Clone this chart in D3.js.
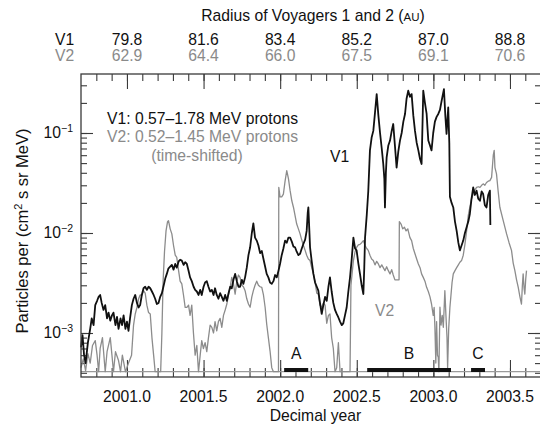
<!DOCTYPE html>
<html>
  <head>
    <meta charset="utf-8">
    <title>Voyager protons</title>
    <script src="https://cdn.jsdelivr.net/npm/d3@7"></script>
    <style>
      body { margin: 0; background: #fff; }
      svg { display: block; }
      text { font-family: 'Liberation Sans', Arial, sans-serif; font-size: 15.7px; }
      .axis path { stroke: none; }
      .axis line { stroke: #3a3a3a; stroke-width: 1.1; }
      .frame { fill: none; stroke: #3a3a3a; stroke-width: 1.3; }
      .v1 { fill: none; stroke: #111; stroke-width: 1.8; stroke-linejoin: round; }
      .v2 { fill: none; stroke: #8c8c8c; stroke-width: 1.3; stroke-linejoin: round; }
      .dark { fill: #111; }
      .grey { fill: #8a8a8a; }
    </style>
  </head>
  <body>
    <script>

      // V1 0.57-1.78 MeV protons, [decimal year, particles per (cm2 s sr MeV)]
      var v1Data = [
        [2000.700, 7.2e-4], [2000.710, 9.5e-4], [2000.720, 6.0e-4], [2000.730, 5.0e-4],
        [2000.745, 8.0e-4], [2000.760, 1.1e-3], [2000.770, 1.4e-3], [2000.782, 1.2e-3],
        [2000.793, 1.9e-3], [2000.805, 2.1e-3], [2000.815, 2.3e-3], [2000.825, 2.4e-3],
        [2000.835, 2.0e-3], [2000.847, 1.7e-3], [2000.858, 1.9e-3], [2000.870, 1.4e-3],
        [2000.880, 1.6e-3], [2000.891, 1.33e-3], [2000.902, 1.5e-3], [2000.912, 1.6e-3],
        [2000.925, 1.2e-3], [2000.935, 1.45e-3], [2000.945, 1.1e-3], [2000.958, 1.4e-3],
        [2000.968, 1.2e-3], [2000.978, 1.5e-3], [2000.990, 1.1e-3], [2001.000, 1.3e-3],
        [2001.010, 1.05e-3], [2001.020, 1.4e-3], [2001.032, 1.9e-3], [2001.043, 2.2e-3],
        [2001.054, 2.4e-3], [2001.065, 2.0e-3], [2001.076, 1.8e-3], [2001.086, 1.9e-3],
        [2001.097, 2.4e-3], [2001.108, 2.8e-3], [2001.119, 2.9e-3], [2001.130, 2.7e-3],
        [2001.141, 2.9e-3], [2001.152, 2.8e-3], [2001.163, 2.6e-3], [2001.174, 2.4e-3],
        [2001.184, 2.2e-3], [2001.195, 1.95e-3], [2001.206, 2.0e-3], [2001.217, 2.3e-3],
        [2001.228, 2.5e-3], [2001.240, 3.0e-3], [2001.250, 3.5e-3], [2001.260, 3.9e-3],
        [2001.270, 4.4e-3], [2001.282, 4.6e-3], [2001.293, 4.8e-3], [2001.304, 4.3e-3],
        [2001.315, 4.9e-3], [2001.325, 4.5e-3], [2001.337, 5.2e-3], [2001.347, 5.4e-3],
        [2001.358, 5.3e-3], [2001.370, 4.8e-3], [2001.380, 5.1e-3], [2001.391, 4.9e-3],
        [2001.402, 4.2e-3], [2001.412, 3.6e-3], [2001.423, 3.3e-3], [2001.435, 2.9e-3],
        [2001.445, 2.7e-3], [2001.456, 2.6e-3], [2001.467, 2.4e-3], [2001.478, 2.7e-3],
        [2001.488, 2.4e-3], [2001.500, 2.9e-3], [2001.510, 3.2e-3], [2001.521, 3.3e-3],
        [2001.532, 2.9e-3], [2001.543, 2.6e-3], [2001.554, 2.7e-3], [2001.565, 2.4e-3],
        [2001.575, 2.8e-3], [2001.586, 2.4e-3], [2001.597, 2.2e-3], [2001.608, 2.5e-3],
        [2001.619, 2.3e-3], [2001.630, 2.1e-3], [2001.641, 2.4e-3], [2001.652, 2.1e-3],
        [2001.663, 2.5e-3], [2001.674, 2.9e-3], [2001.684, 2.8e-3], [2001.695, 3.4e-3],
        [2001.706, 3.9e-3], [2001.717, 3.3e-3], [2001.728, 2.9e-3], [2001.738, 2.9e-3],
        [2001.750, 3.4e-3], [2001.760, 3.1e-3], [2001.771, 3.6e-3], [2001.782, 4.5e-3],
        [2001.793, 6.0e-3], [2001.804, 7.2e-3], [2001.815, 1.0e-2], [2001.825, 1.25e-2],
        [2001.836, 9.0e-3], [2001.847, 8.4e-3], [2001.858, 7.5e-3], [2001.869, 6.3e-3],
        [2001.880, 6.6e-3], [2001.891, 5.5e-3], [2001.902, 4.6e-3], [2001.912, 3.9e-3],
        [2001.923, 3.6e-3], [2001.934, 3.2e-3], [2001.945, 3.1e-3], [2001.956, 3.3e-3],
        [2001.967, 3.8e-3], [2001.978, 3.6e-3], [2001.989, 4.2e-3], [2001.999, 4.9e-3],
        [2002.010, 6.0e-3], [2002.021, 7.0e-3], [2002.032, 8.4e-3], [2002.043, 8.0e-3],
        [2002.054, 9.0e-3], [2002.065, 9.0e-3], [2002.076, 8.2e-3], [2002.087, 7.3e-3],
        [2002.097, 7.2e-3], [2002.108, 6.5e-3], [2002.119, 6.0e-3], [2002.130, 6.2e-3],
        [2002.141, 7.0e-3], [2002.152, 7.8e-3], [2002.163, 8.6e-3], [2002.173, 1.05e-2],
        [2002.180, 1.6e-2], [2002.184, 1.8e-2], [2002.190, 1.1e-2], [2002.195, 7.2e-3],
        [2002.206, 5.2e-3], [2002.217, 3.9e-3], [2002.228, 3.2e-3], [2002.239, 2.9e-3],
        [2002.249, 2.65e-3], [2002.260, 2.0e-3], [2002.271, 1.55e-3], [2002.282, 1.9e-3],
        [2002.293, 2.3e-3], [2002.304, 2.1e-3], [2002.315, 2.9e-3], [2002.325, 3.6e-3],
        [2002.336, 2.6e-3], [2002.347, 2.0e-3], [2002.358, 1.7e-3], [2002.369, 1.55e-3],
        [2002.380, 1.43e-3], [2002.391, 1.3e-3], [2002.402, 1.2e-3], [2002.412, 1.25e-3],
        [2002.423, 1.5e-3], [2002.434, 1.8e-3], [2002.445, 2.6e-3], [2002.456, 3.6e-3],
        [2002.467, 5.5e-3], [2002.478, 9.0e-3], [2002.489, 7.0e-3], [2002.499, 6.7e-3],
        [2002.510, 5.0e-3], [2002.521, 3.9e-3], [2002.532, 3.0e-3], [2002.543, 2.45e-3],
        [2002.549, 4.5e-3], [2002.554, 9.0e-3], [2002.565, 1.5e-2], [2002.575, 2.6e-2],
        [2002.586, 6.7e-2], [2002.597, 9.0e-2], [2002.608, 1.05e-1], [2002.619, 1.6e-1],
        [2002.630, 2.45e-1], [2002.641, 1.5e-1], [2002.652, 1.0e-1], [2002.663, 7.0e-2],
        [2002.673, 4.9e-2], [2002.680, 3.5e-2], [2002.684, 1.8e-2], [2002.690, 4.0e-2],
        [2002.695, 5.7e-2], [2002.706, 7.5e-2], [2002.717, 8.4e-2], [2002.728, 1.05e-1],
        [2002.738, 1.23e-1], [2002.749, 7.5e-2], [2002.760, 4.5e-2], [2002.771, 6.5e-2],
        [2002.782, 8.4e-2], [2002.793, 1.0e-1], [2002.804, 1.3e-1], [2002.815, 1.55e-1],
        [2002.825, 2.2e-1], [2002.836, 2.65e-1], [2002.847, 2.3e-1], [2002.858, 2.45e-1],
        [2002.869, 1.5e-1], [2002.880, 1.05e-1], [2002.891, 8.0e-2], [2002.902, 6.7e-2],
        [2002.913, 5.5e-2], [2002.923, 4.9e-2], [2002.929, 1.2e-1], [2002.934, 2.65e-1],
        [2002.945, 2.0e-1], [2002.956, 1.55e-1], [2002.962, 1.1e-1], [2002.967, 8.4e-2],
        [2002.978, 7.5e-2], [2002.988, 6.7e-2], [2002.999, 1.0e-1], [2003.010, 1.3e-1],
        [2003.021, 1.45e-1], [2003.032, 1.55e-1], [2003.043, 1.7e-1], [2003.054, 2.1e-1],
        [2003.069, 2.75e-1], [2003.078, 1.5e-1], [2003.086, 9.8e-2], [2003.097, 1.8e-1],
        [2003.104, 8.0e-2], [2003.108, 2.3e-2], [2003.119, 2.0e-2], [2003.130, 1.8e-2],
        [2003.141, 1.3e-2], [2003.152, 1.05e-2], [2003.163, 8.0e-3], [2003.173, 6.7e-3],
        [2003.184, 7.5e-3], [2003.195, 8.4e-3], [2003.206, 1.0e-2], [2003.217, 1.14e-2],
        [2003.228, 1.3e-2], [2003.238, 1.55e-2], [2003.249, 2.2e-2], [2003.260, 2.86e-2],
        [2003.271, 2.4e-2], [2003.282, 2.65e-2], [2003.293, 2.2e-2], [2003.304, 2.1e-2],
        [2003.315, 2.6e-2], [2003.325, 2.45e-2], [2003.336, 1.9e-2], [2003.347, 1.8e-2],
        [2003.358, 2.4e-2], [2003.369, 2.65e-2], [2003.372, 1.2e-2]
      ];

      // V2 0.52-1.45 MeV protons (time-shifted)
      var v2Data = [
        [2000.700, 4.5e-4], [2000.715, 5.5e-4], [2000.730, 4.2e-4], [2000.745, 6.2e-4],
        [2000.760, 5.0e-4], [2000.775, 7.5e-4], [2000.793, 8.4e-4], [2000.805, 6.0e-4],
        [2000.815, 4.1e-4], [2000.825, 7.0e-4], [2000.840, 9.0e-4], [2000.858, 4.1e-4],
        [2000.870, 6.5e-4], [2000.891, 9.0e-4], [2000.902, 6.0e-4], [2000.912, 4.1e-4],
        [2000.925, 6.5e-4], [2000.945, 5.3e-4], [2000.958, 4.1e-4], [2000.970, 6.0e-4],
        [2000.990, 4.1e-4], [2001.010, 5.0e-4], [2001.030, 6.0e-4], [2001.043, 1.2e-3],
        [2001.054, 1.55e-3], [2001.065, 1.8e-3], [2001.076, 2.2e-3], [2001.086, 2.4e-3],
        [2001.097, 2.4e-3], [2001.108, 2.65e-3], [2001.119, 2.5e-3], [2001.130, 1.9e-3],
        [2001.141, 1.6e-3], [2001.152, 1.55e-3], [2001.163, 9.0e-4], [2001.174, 6.0e-4],
        [2001.184, 4.1e-4], [2001.206, 4.1e-4], [2001.220, 4.1e-4], [2001.228, 1.0e-3],
        [2001.236, 3.3e-3], [2001.245, 6.5e-3], [2001.255, 1.05e-2], [2001.265, 1.3e-2],
        [2001.271, 1.33e-2], [2001.282, 1.1e-2], [2001.293, 9.8e-3], [2001.304, 7.5e-3],
        [2001.315, 6.0e-3], [2001.325, 5.7e-3], [2001.337, 4.2e-3], [2001.347, 3.3e-3],
        [2001.358, 3.1e-3], [2001.369, 2.4e-3], [2001.380, 1.8e-3], [2001.391, 1.8e-3],
        [2001.402, 1.9e-3], [2001.412, 1.5e-3], [2001.423, 1.9e-3], [2001.434, 1.0e-3],
        [2001.445, 6.0e-4], [2001.456, 7.5e-4], [2001.467, 4.1e-4], [2001.478, 6.0e-4],
        [2001.488, 8.4e-4], [2001.499, 7.0e-4], [2001.510, 8.0e-4], [2001.521, 6.5e-4],
        [2001.532, 9.0e-4], [2001.543, 1.2e-3], [2001.554, 1.14e-3], [2001.565, 1.0e-3],
        [2001.575, 1.3e-3], [2001.586, 1.05e-3], [2001.597, 1.3e-3], [2001.608, 1.4e-3],
        [2001.619, 1.14e-3], [2001.630, 1.5e-3], [2001.641, 1.7e-3], [2001.652, 1.95e-3],
        [2001.663, 2.4e-3], [2001.674, 2.9e-3], [2001.684, 3.6e-3], [2001.695, 3.1e-3],
        [2001.706, 2.45e-3], [2001.717, 3.3e-3], [2001.728, 3.8e-3], [2001.738, 3.6e-3],
        [2001.750, 3.0e-3], [2001.760, 2.9e-3], [2001.771, 2.65e-3], [2001.782, 2.2e-3],
        [2001.793, 1.95e-3], [2001.804, 1.81e-3], [2001.815, 2.3e-3], [2001.825, 2.65e-3],
        [2001.836, 3.0e-3], [2001.847, 3.3e-3], [2001.858, 3.0e-3], [2001.869, 2.9e-3],
        [2001.880, 2.86e-3], [2001.891, 2.4e-3], [2001.902, 1.8e-3], [2001.912, 1.23e-3],
        [2001.923, 9.0e-4], [2001.934, 6.6e-4], [2001.945, 4.5e-4], [2001.956, 4.1e-4],
        [2001.978, 4.1e-4], [2001.989, 4.1e-4], [2001.991, 2.86e-2], [2001.999, 2.3e-2],
        [2002.010, 2.3e-2], [2002.021, 2.45e-2], [2002.032, 3.3e-2], [2002.043, 4.2e-2],
        [2002.054, 3.5e-2], [2002.065, 2.65e-2], [2002.076, 2.1e-2], [2002.087, 1.8e-2],
        [2002.097, 1.5e-2], [2002.108, 1.23e-2], [2002.119, 1.1e-2], [2002.130, 9.8e-3],
        [2002.141, 8.5e-3], [2002.152, 7.5e-3], [2002.163, 6.7e-3], [2002.173, 6.0e-3],
        [2002.184, 5.5e-3], [2002.195, 5.3e-3], [2002.206, 4.5e-3], [2002.217, 3.9e-3],
        [2002.228, 3.2e-3], [2002.239, 2.5e-3], [2002.249, 2.45e-3], [2002.260, 1.9e-3],
        [2002.271, 1.8e-3], [2002.282, 2.0e-3], [2002.293, 1.9e-3], [2002.304, 1.25e-3],
        [2002.315, 1.5e-3], [2002.325, 1.55e-3], [2002.336, 9.0e-4], [2002.347, 7.0e-4],
        [2002.358, 4.1e-4], [2002.369, 4.5e-4], [2002.380, 8.0e-4], [2002.391, 4.1e-4],
        [2002.412, 4.1e-4], [2002.434, 4.1e-4], [2002.456, 4.1e-4], [2002.462, 3.0e-3],
        [2002.478, 5.3e-3], [2002.489, 6.5e-3], [2002.499, 7.2e-3], [2002.510, 7.6e-3],
        [2002.521, 7.7e-3], [2002.532, 8.0e-3], [2002.543, 8.4e-3], [2002.554, 7.5e-3],
        [2002.565, 7.0e-3], [2002.575, 6.7e-3], [2002.586, 6.0e-3], [2002.597, 5.5e-3],
        [2002.608, 5.3e-3], [2002.619, 4.8e-3], [2002.630, 5.2e-3], [2002.641, 4.9e-3],
        [2002.652, 4.5e-3], [2002.663, 4.8e-3], [2002.673, 4.5e-3], [2002.684, 4.2e-3],
        [2002.695, 4.6e-3], [2002.706, 4.2e-3], [2002.717, 3.9e-3], [2002.728, 4.3e-3],
        [2002.738, 3.8e-3], [2002.749, 3.4e-3], [2002.760, 3.4e-3], [2002.776, 3.4e-3],
        [2002.778, 1.3e-2], [2002.789, 1.23e-2], [2002.800, 1.1e-2], [2002.811, 1.14e-2],
        [2002.822, 1.05e-2], [2002.833, 1.1e-2], [2002.847, 9.0e-3], [2002.858, 8.4e-3],
        [2002.869, 7.0e-3], [2002.880, 6.2e-3], [2002.891, 5.5e-3], [2002.902, 4.9e-3],
        [2002.913, 4.5e-3], [2002.923, 3.9e-3], [2002.934, 3.6e-3], [2002.945, 3.3e-3],
        [2002.956, 2.86e-3], [2002.967, 2.6e-3], [2002.978, 2.3e-3], [2002.988, 1.95e-3],
        [2002.999, 1.5e-3], [2003.005, 1.8e-3], [2003.010, 1.14e-3], [2003.016, 5.0e-4],
        [2003.021, 1.3e-3], [2003.027, 6.0e-4], [2003.032, 5.7e-4], [2003.036, 4.1e-4],
        [2003.043, 1.81e-3], [2003.050, 1.2e-3], [2003.058, 1.5e-3], [2003.065, 1.14e-3],
        [2003.075, 2.65e-3], [2003.082, 1.5e-3], [2003.089, 9.0e-4], [2003.093, 4.5e-4],
        [2003.100, 1.1e-3], [2003.108, 1.81e-3], [2003.115, 2.4e-3], [2003.122, 3.2e-3],
        [2003.130, 3.9e-3], [2003.141, 4.2e-3], [2003.152, 4.5e-3], [2003.163, 4.8e-3],
        [2003.173, 5.1e-3], [2003.184, 5.3e-3], [2003.195, 6.0e-3], [2003.206, 7.7e-3],
        [2003.217, 1.05e-2], [2003.228, 1.5e-2], [2003.238, 1.81e-2], [2003.249, 2.2e-2],
        [2003.260, 2.45e-2], [2003.271, 2.7e-2], [2003.282, 2.86e-2], [2003.293, 2.9e-2],
        [2003.304, 2.86e-2], [2003.315, 3.0e-2], [2003.325, 3.1e-2], [2003.336, 3.0e-2],
        [2003.347, 3.2e-2], [2003.358, 3.3e-2], [2003.369, 3.34e-2], [2003.380, 3.6e-2],
        [2003.391, 6.0e-2], [2003.397, 6.7e-2], [2003.402, 4.5e-2], [2003.412, 3.9e-2],
        [2003.423, 2.6e-2], [2003.434, 1.81e-2], [2003.456, 1.33e-2], [2003.478, 9.8e-3],
        [2003.494, 8.0e-3], [2003.510, 6.7e-3], [2003.521, 5.0e-3], [2003.532, 4.2e-3],
        [2003.543, 3.4e-3], [2003.554, 2.86e-3], [2003.565, 2.3e-3], [2003.575, 1.95e-3],
        [2003.581, 3.0e-3], [2003.586, 3.9e-3], [2003.592, 2.8e-3], [2003.597, 2.45e-3],
        [2003.603, 3.5e-3], [2003.608, 4.2e-3]
      ];

      var floorLevel = 4.1e-4;

      var yearTicks = [2001.0, 2001.5, 2002.0, 2002.5, 2003.0, 2003.5];
      var yearLabels = ["2001.0", "2001.5", "2002.0", "2002.5", "2003.0", "2003.5"];
      var v1Radius = ["79.8", "81.6", "83.4", "85.2", "87.0", "88.8"];
      var v2Radius = ["62.9", "64.4", "66.0", "67.5", "69.1", "70.6"];

      var yMajor = [1e-1, 1e-2, 1e-3];
      var yExponents = ["\u22121", "\u22122", "\u22123"];

      var periodLabels = ["A", "B", "C"];
      var periodStart = [2002.026, 2002.568, 2003.246];
      var periodEnd = [2002.183, 2003.115, 2003.337];

      var outerWidth = 540;
      var outerHeight = 427;
      var margin = { left: 81, top: 74, right: 0, bottom: 50 };
      var innerWidth = outerWidth - margin.left - margin.right;
      var innerHeight = outerHeight - margin.top - margin.bottom;

      var svg = d3.select("body").append("svg")
        .attr("width", outerWidth)
        .attr("height", outerHeight);

      // scales map straight to page pixels, so texts can sit at the svg level
      var xScale = d3.scaleLinear()
        .domain([2000.7, 2003.696])
        .range([margin.left, margin.left + innerWidth]);
      var yScale = d3.scaleLog()
        .domain([Math.pow(10, -3.44), Math.pow(10, -0.41)])
        .range([margin.top + innerHeight, margin.top]);

      var plotLeft = margin.left, plotRight = margin.left + innerWidth;
      var plotTop = margin.top, plotBottom = margin.top + innerHeight;

      // minor ticks every 0.1 yr
      var minorYears = d3.range(1, 30).map(function(i) { return +(2000.7 + i * 0.1).toFixed(1); })
        .filter(function(d) { return d < 2003.69; });
      var yMinor = yScale.ticks();

      function addAxis(axis, tx, ty) {
        var a = svg.append("g").attr("class", "axis")
          .attr("transform", "translate(" + tx + "," + ty + ")")
          .call(axis);
        a.selectAll("text").remove();
      }

      addAxis(d3.axisBottom(xScale).tickValues(minorYears).tickSize(7), 0, plotTop);
      addAxis(d3.axisBottom(xScale).tickValues(yearTicks).tickSize(15), 0, plotTop);
      addAxis(d3.axisTop(xScale).tickValues(minorYears).tickSize(9), 0, plotBottom);
      addAxis(d3.axisTop(xScale).tickValues(yearTicks).tickSize(17), 0, plotBottom);
      addAxis(d3.axisRight(yScale).tickValues(yMinor).tickSize(6), plotLeft, 0);
      addAxis(d3.axisRight(yScale).tickValues(yMajor).tickSize(12), plotLeft, 0);
      addAxis(d3.axisLeft(yScale).tickValues(yMinor).tickSize(5), plotRight, 0);
      addAxis(d3.axisLeft(yScale).tickValues(yMajor).tickSize(12), plotRight, 0);

      // floor of the data
      svg.append("line")
        .attr("x1", plotLeft).attr("x2", plotRight)
        .attr("y1", yScale(floorLevel)).attr("y2", yScale(floorLevel))
        .attr("stroke", "#9a9a9a").attr("stroke-width", 1.2);

      var line = d3.line()
        .x(function(d) { return xScale(d[0]); })
        .y(function(d) { return yScale(Math.max(d[1], floorLevel)); });

      svg.append("path").datum(v2Data).attr("class", "v2").attr("d", line);
      svg.append("path").datum(v1Data).attr("class", "v1").attr("d", line);

      // periods A, B, C
      var periods = periodLabels.map(function(l, i) {
        return { label: l, start: periodStart[i], end: periodEnd[i] };
      });
      svg.selectAll(".period").data(periods).enter().append("line")
        .attr("class", "period")
        .attr("x1", function(d) { return xScale(d.start); })
        .attr("x2", function(d) { return xScale(d.end); })
        .attr("y1", plotBottom - 7).attr("y2", plotBottom - 7)
        .attr("stroke", "#111").attr("stroke-width", 4);
      svg.selectAll(".plabel").data(periods).enter().append("text")
        .attr("class", "plabel dark")
        .attr("x", function(d) { return xScale((d.start + d.end) / 2); })
        .attr("y", plotBottom - 18)
        .attr("text-anchor", "middle")
        .text(function(d) { return d.label; });

      svg.append("rect").attr("class", "frame")
        .attr("x", plotLeft).attr("y", plotTop)
        .attr("width", innerWidth + 2).attr("height", innerHeight);

      // bottom labels
      svg.selectAll(".xl").data(yearTicks).enter().append("text")
        .attr("class", "xl dark")
        .attr("x", function(d) { return xScale(d); })
        .attr("y", plotBottom + 25)
        .attr("text-anchor", "middle")
        .text(function(d, i) { return yearLabels[i]; });

      svg.append("text").attr("class", "dark")
        .attr("x", plotLeft + innerWidth / 2 + 5).attr("y", 421)
        .attr("text-anchor", "middle")
        .text("Decimal year");

      // top labels
      var title = svg.append("text").attr("class", "dark")
        .attr("x", 313).attr("y", 21)
        .attr("text-anchor", "middle");
      title.append("tspan").text("Radius of Voyagers 1 and 2 (");
      title.append("tspan").style("font-size", "11.5px").text("AU");
      title.append("tspan").text(")");

      svg.append("text").attr("class", "dark").attr("x", 55).attr("y", 45).text("V1");
      svg.append("text").attr("class", "grey").attr("x", 55).attr("y", 61).text("V2");

      svg.selectAll(".r1").data(yearTicks).enter().append("text")
        .attr("class", "r1 dark")
        .attr("x", function(d) { return xScale(d); })
        .attr("y", 45)
        .attr("text-anchor", "middle")
        .text(function(d, i) { return v1Radius[i]; });
      svg.selectAll(".r2").data(yearTicks).enter().append("text")
        .attr("class", "r2 grey")
        .attr("x", function(d) { return xScale(d); })
        .attr("y", 61)
        .attr("text-anchor", "middle")
        .text(function(d, i) { return v2Radius[i]; });

      // y labels
      var yl = svg.selectAll(".yl").data(yMajor).enter().append("text")
        .attr("class", "yl dark")
        .attr("x", plotLeft - 8)
        .attr("y", function(d) { return yScale(d) + 5; })
        .attr("text-anchor", "end");
      yl.append("tspan").text("10");
      yl.append("tspan").attr("dy", -6).style("font-size", "10.5px")
        .text(function(d, i) { return yExponents[i]; });

      var yTitle = svg.append("text").attr("class", "dark")
        .attr("transform", "translate(28,231) rotate(-90)")
        .attr("text-anchor", "middle").style("font-size", "16.5px");
      yTitle.append("tspan").text("Particles per (cm");
      yTitle.append("tspan").attr("dy", -6).style("font-size", "11px").text("2");
      yTitle.append("tspan").attr("dy", 6).text(" s sr MeV)");

      // legend
      svg.append("text").attr("class", "dark").attr("x", 107).attr("y", 124)
        .text("V1: 0.57\u20131.78 MeV protons");
      svg.append("text").attr("class", "grey").attr("x", 107).attr("y", 142)
        .text("V2: 0.52\u20131.45 MeV protons");
      svg.append("text").attr("class", "grey").attr("x", 197).attr("y", 161)
        .attr("text-anchor", "middle")
        .text("(time-shifted)");

      svg.append("text").attr("class", "dark").attr("x", 330).attr("y", 162).text("V1");
      svg.append("text").attr("class", "grey").attr("x", 375).attr("y", 316).text("V2");

    </script>
  </body>
</html>
